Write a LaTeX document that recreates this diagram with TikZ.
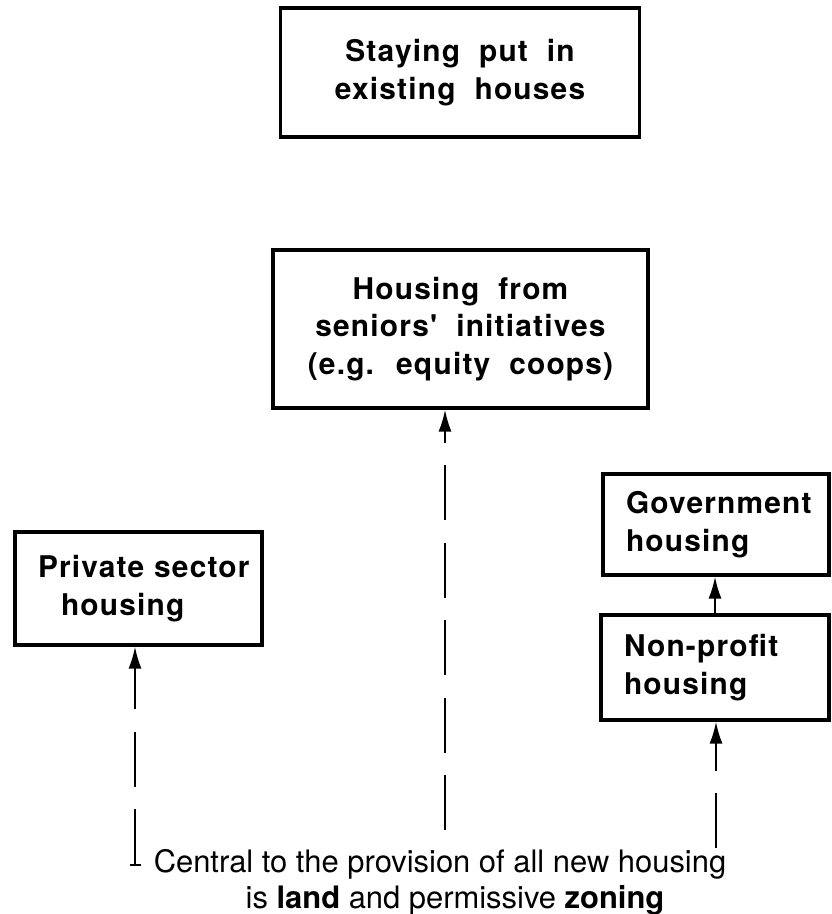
\documentclass[tikz,border=0pt]{standalone}
\usepackage{fontspec}
\setmainfont{TeX Gyre Heros}
\newfontfamily\boxfont[LetterSpace=4,WordSpace=2]{TeX Gyre Heros}
\usetikzlibrary{arrows.meta}
\hfuzz=2cm

\tikzset{
  housebox/.style={draw,line width=1.8pt,inner sep=0pt,align=center,
    font={\boxfont\bfseries\fontsize{17}{21.5}\selectfont}},
  leftbox/.style={housebox,align=left,inner xsep=0.46cm},
  landtext/.style={inner sep=0pt,align=center,
    font={\fontsize{17.6}{20.5}\selectfont}},
  landline/.style={line width=1.2pt,dash pattern=on 1.1cm off 0.45cm,
    -{Latex[length=0.44cm,width=0.26cm]}},
  upline/.style={line width=1.2pt,-{Latex[length=0.44cm,width=0.26cm]}}
}

\begin{document}
\begin{tikzpicture}
  \useasboundingbox (0,0) rectangle (16.62,-18.28);
  % the five kinds of housing
  \node[housebox,minimum width=7.18cm,minimum height=2.58cm] (stay) at (9.2,-1.45)
    {Staying put in\\existing houses};
  \node[housebox,minimum width=7.5cm,minimum height=3.16cm] (seniors) at (9.21,-6.58)
    {Housing from\\seniors' initiatives\\(e.g. equity coops)};
  \node[leftbox,text width=4.02cm,minimum height=2.26cm] (private) at (2.77,-11.77)
    {\mbox{Private sector}\\\hspace*{0.46cm}housing};
  \node[leftbox,text width=3.6cm,minimum height=2.02cm] (govt) at (14.32,-10.49)
    {Government\\housing};
  \node[leftbox,text width=3.64cm,minimum height=2.1cm] (nonprofit) at (14.30,-13.35)
    {Non-profit\\housing};
  % land and zoning underneath everything
  \node[landtext,anchor=north] (land) at (8.8,-16.98)
    {Central to the provision of all new housing\\
     \hspace*{0.6cm}is \textbf{land} and permissive \textbf{zoning}};
  \coordinate (landL) at (2.7,-17.32);
  \coordinate (landM) at (8.9,-16.6);
  \coordinate (landR) at (14.32,-16.96);
  \draw[landline,{Bar[width=0.22cm]}-{Latex[length=0.44cm,width=0.26cm]}]
    (landL) -- (landL |- private.south);
  \draw[landline] (landM) -- (landM |- seniors.south);
  \draw[landline] (landR) -- (landR |- nonprofit.south);
  \draw[upline] (nonprofit.north) -- (nonprofit.north |- govt.south);
\end{tikzpicture}
\end{document}
